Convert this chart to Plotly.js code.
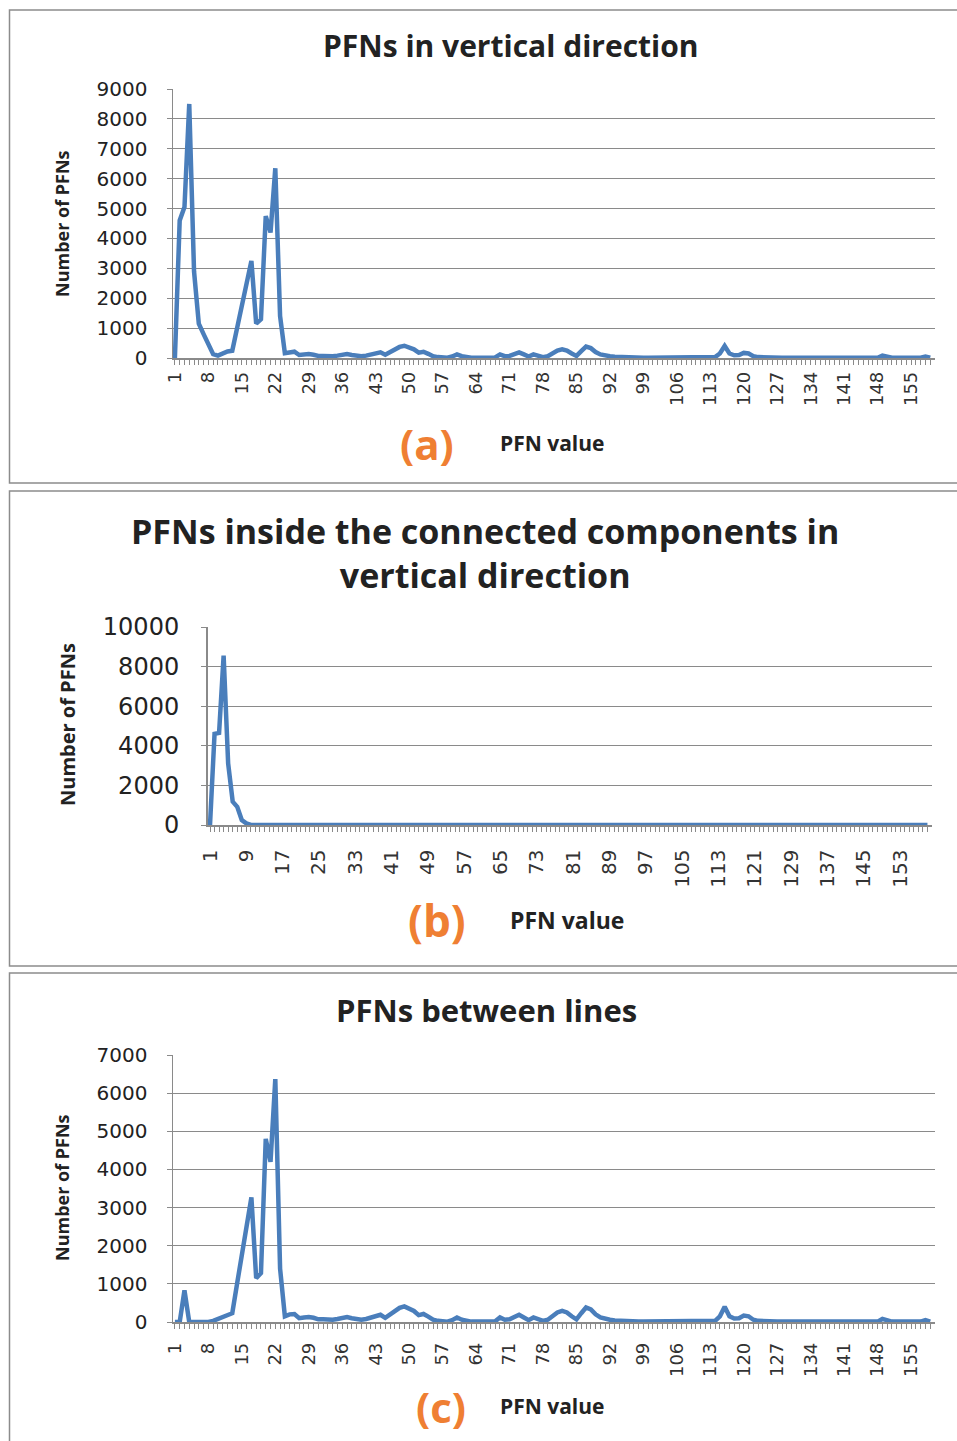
<!DOCTYPE html>
<html>
<head>
<meta charset="utf-8">
<script src="https://cdn.plot.ly/plotly-3.0.1.min.js"></script>
<style>
html,body{margin:0;padding:0;background:#fff;}
#chart{width:957px;height:1441px;}
</style>
</head>
<body>
<div id="chart"></div>
<script>
// ---- Data ----
var pfnValues = [1,2,3,4,5,6,7,8,9,10,11,12,13,14,15,16,17,18,19,20,
  21,22,23,24,25,26,27,28,29,30,31,32,33,34,35,36,37,38,39,40,
  41,42,43,44,45,46,47,48,49,50,51,52,53,54,55,56,57,58,59,60,
  61,62,63,64,65,66,67,68,69,70,71,72,73,74,75,76,77,78,79,80,
  81,82,83,84,85,86,87,88,89,90,91,92,93,94,95,96,97,98,99,100,
  101,102,103,104,105,106,107,108,109,110,111,112,113,114,115,116,117,118,119,120,
  121,122,123,124,125,126,127,128,129,130,131,132,133,134,135,136,137,138,139,140,
  141,142,143,144,145,146,147,148,149,150,151,152,153,154,155,156,157,158,159];

var verticalPFN = [0,4600,5050,8500,2900,1150,800,450,130,80,
  150,220,240,1000,1750,2500,3250,1150,1300,4750,
  4200,6350,1400,160,200,210,100,120,130,110,
  70,70,60,60,80,120,130,100,70,60,
  80,110,150,190,110,200,290,370,410,360,
  290,180,210,140,60,30,20,10,50,120,
  60,20,10,10,10,10,10,20,120,60,
  70,130,190,120,50,120,90,30,60,170,
  250,290,250,150,70,230,380,330,200,120,
  80,60,40,30,20,10,10,10,10,10,
  10,10,10,10,10,10,10,10,10,10,
  10,10,10,30,150,400,150,90,100,170,
  150,60,30,20,10,10,10,10,10,10,
  10,10,10,10,10,10,10,10,10,10,
  10,10,10,10,10,10,10,10,80,30,
  10,10,10,10,10,10,10,50,10];

var componentPFN = [0,4600,4650,8550,3100,1180,920,250,80,0,
  0,0,0,0,0,0,0,0,0,0,
  0,0,0,0,0,0,0,0,0,0,
  0,0,0,0,0,0,0,0,0,0,
  0,0,0,0,0,0,0,0,0,0,
  0,0,0,0,0,0,0,0,0,0,
  0,0,0,0,0,0,0,0,0,0,
  0,0,0,0,0,0,0,0,0,0,
  0,0,0,0,0,0,0,0,0,0,
  0,0,0,0,0,0,0,0,0,0,
  0,0,0,0,0,0,0,0,0,0,
  0,0,0,0,0,0,0,0,0,0,
  0,0,0,0,0,0,0,0,0,0,
  0,0,0,0,0,0,0,0,0,0,
  0,0,0,0,0,0,0,0,0,0,
  0,0,0,0,0,0,0,0,0];

var betweenLinesPFN = [0,0,830,0,0,0,0,0,30,80,
  150,210,230,1000,1750,2550,3270,1150,1280,4800,
  4200,6370,1400,150,200,210,100,120,130,110,
  70,70,60,60,80,120,130,100,70,60,
  80,110,150,190,110,200,290,370,410,360,
  290,180,210,140,60,30,20,10,50,120,
  60,20,10,10,10,10,10,20,120,60,
  70,130,190,120,50,120,90,30,60,170,
  250,290,250,150,70,230,380,330,200,120,
  80,60,40,30,20,10,10,10,10,10,
  10,10,10,10,10,10,10,10,10,10,
  10,10,10,30,150,400,150,90,100,170,
  150,60,30,20,10,10,10,10,10,10,
  10,10,10,10,10,10,10,10,10,10,
  10,10,10,10,10,10,10,10,80,30,
  10,10,10,10,10,10,10,50,10];

var tickLabels7 = [1,8,15,22,29,36,43,50,57,64,71,78,85,92,99,106,113,120,127,134,141,148,155];
var tickLabels8 = [1,9,17,25,33,41,49,57,65,73,81,89,97,105,113,121,129,137,145,153];

var titleA = "PFNs in vertical direction";
var titleB = "PFNs inside the connected components in<br>vertical direction";
var titleC = "PFNs between lines";
var yTitle = "Number of PFNs";
var xTitle = "PFN value";
var panelTags = ["(a)", "(b)", "(c)"];

// ---- Helpers (pixel -> paper) ----
var W = 957, H = 1441;
function px(x){ return x / W; }
function py(y){ return 1 - y / H; }

var lineColor = "#4A7EBB";
var gridColor = "#8a8a8a";
var orange = "#EF7F33";
var tickFont = "DejaVu Sans, Verdana, sans-serif";
var boldFont = "Open Sans, Lato, sans-serif";

function trace(y, xa, ya){
  return {x: pfnValues, y: y, type: "scatter", mode: "lines", xaxis: xa, yaxis: ya,
    line: {color: lineColor, width: 4.5}, hoverinfo: "x+y", showlegend: false};
}

var data = [
  trace(verticalPFN, "x", "y"),
  trace(componentPFN, "x2", "y2"),
  trace(betweenLinesPFN, "x3", "y3")
];

function xAxis(domain, range, tickvals, fontSize, standoff, anchor){
  return {domain: domain, range: range, anchor: anchor, tickmode: "array", tickvals: tickvals,
    ticktext: tickvals.map(String), tickangle: -90, ticks: "outside", ticklen: 5, tickcolor: gridColor,
    tickfont: {family: tickFont, size: fontSize, color: "#333"}, ticklabelstandoff: standoff,
    showline: true, linecolor: gridColor, linewidth: 1.5, showgrid: false, zeroline: false,
    minor: {tickmode: "array", tickvals: pfnValues, ticks: "outside", ticklen: 5, tickcolor: gridColor},
    fixedrange: true};
}
function yAxis(domain, range, dtick, fontSize, standoff, anchor){
  return {domain: domain, range: range, anchor: anchor, dtick: dtick, tick0: 0, tickformat: "d",
    ticks: "outside", ticklen: 5, tickcolor: gridColor,
    tickfont: {family: tickFont, size: fontSize, color: "#222"}, ticklabelstandoff: standoff,
    showline: true, linecolor: gridColor, linewidth: 1.5, showgrid: true, gridcolor: gridColor, gridwidth: 1.2,
    zeroline: false, fixedrange: true};
}

var layout = {
  width: W, height: H, margin: {l: 0, r: 0, t: 0, b: 0},
  paper_bgcolor: "#fff", plot_bgcolor: "#fff", showlegend: false,
  xaxis: xAxis([px(173), px(935)], [0.6, 160], tickLabels7, 18, 0, "y"),
  yaxis: yAxis([py(358), py(89)], [0, 9000], 1000, 20, 15, "x"),
  xaxis2: xAxis([px(207.5), px(932)], [0.45, 160], tickLabels8, 20, 10, "y2"),
  yaxis2: yAxis([py(825), py(627)], [0, 10000], 2000, 24, 17, "x2"),
  xaxis3: xAxis([px(173), px(935)], [0.6, 160], tickLabels7, 18, 7, "y3"),
  yaxis3: yAxis([py(1322), py(1055)], [0, 7000], 1000, 20, 15, "x3"),
  shapes: [
    {type: "rect", xref: "paper", yref: "paper", x0: px(9.5), x1: px(975), y0: py(10), y1: py(483), line: {color: "#8c8c8c", width: 1.5}},
    {type: "rect", xref: "paper", yref: "paper", x0: px(9.5), x1: px(975), y0: py(491), y1: py(966), line: {color: "#8c8c8c", width: 1.5}},
    {type: "rect", xref: "paper", yref: "paper", x0: px(9.5), x1: px(975), y0: py(973), y1: py(1460), line: {color: "#8c8c8c", width: 1.5}}
  ],
  annotations: [
    {text: "<b>" + titleA + "</b>", x: px(511), y: py(46), xref: "paper", yref: "paper", showarrow: false, xanchor: "center", yanchor: "middle", font: {family: boldFont, size: 30, color: "#222"}},
    {text: "<b>" + titleB + "</b>", x: px(485), y: py(553), xref: "paper", yref: "paper", showarrow: false, xanchor: "center", yanchor: "middle", font: {family: boldFont, size: 34, color: "#222"}},
    {text: "<b>" + titleC + "</b>", x: px(487), y: py(1010), xref: "paper", yref: "paper", showarrow: false, xanchor: "center", yanchor: "middle", font: {family: boldFont, size: 31, color: "#222"}},

    {text: "<b>" + yTitle + "</b>", x: px(62), y: py(224), xref: "paper", yref: "paper", showarrow: false, textangle: -90, xanchor: "center", yanchor: "middle", font: {family: boldFont, size: 18, color: "#222"}},
    {text: "<b>" + yTitle + "</b>", x: px(67), y: py(725), xref: "paper", yref: "paper", showarrow: false, textangle: -90, xanchor: "center", yanchor: "middle", font: {family: boldFont, size: 20, color: "#222"}},
    {text: "<b>" + yTitle + "</b>", x: px(62), y: py(1188), xref: "paper", yref: "paper", showarrow: false, textangle: -90, xanchor: "center", yanchor: "middle", font: {family: boldFont, size: 18, color: "#222"}},

    {text: "<b>" + panelTags[0] + "</b>", x: px(427), y: py(443), xref: "paper", yref: "paper", showarrow: false, xanchor: "center", yanchor: "middle", font: {family: boldFont, size: 42, color: orange}},
    {text: "<b>" + panelTags[1] + "</b>", x: px(437), y: py(920), xref: "paper", yref: "paper", showarrow: false, xanchor: "center", yanchor: "middle", font: {family: boldFont, size: 44, color: orange}},
    {text: "<b>" + panelTags[2] + "</b>", x: px(441), y: py(1406), xref: "paper", yref: "paper", showarrow: false, xanchor: "center", yanchor: "middle", font: {family: boldFont, size: 42, color: orange}},

    {text: "<b>" + xTitle + "</b>", x: px(552), y: py(443), xref: "paper", yref: "paper", showarrow: false, xanchor: "center", yanchor: "middle", font: {family: boldFont, size: 21, color: "#222"}},
    {text: "<b>" + xTitle + "</b>", x: px(567), y: py(920), xref: "paper", yref: "paper", showarrow: false, xanchor: "center", yanchor: "middle", font: {family: boldFont, size: 23, color: "#222"}},
    {text: "<b>" + xTitle + "</b>", x: px(552), y: py(1406), xref: "paper", yref: "paper", showarrow: false, xanchor: "center", yanchor: "middle", font: {family: boldFont, size: 21, color: "#222"}}
  ]
};

Plotly.newPlot("chart", data, layout, {displayModeBar: false, staticPlot: true});
</script>
</body>
</html>
